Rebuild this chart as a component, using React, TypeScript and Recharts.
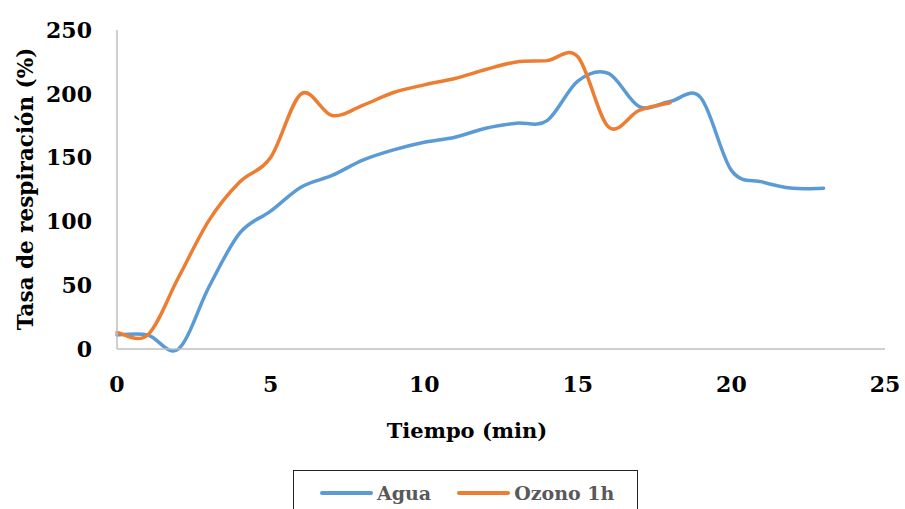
import { LineChart, Line, XAxis, YAxis, Legend } from 'recharts';

const minutes = [0, 1, 2, 3, 4, 5, 6, 7, 8, 9, 10, 11, 12, 13, 14, 15, 16, 17, 18, 19, 20, 21, 22, 23];
const agua = [11, 11, 0, 49, 91, 108, 127, 136, 148, 156, 162, 166, 173, 177, 179, 210, 216, 190, 194, 197, 140, 131, 126, 126];
const ozono1h = [13, 11, 56, 101, 131, 150, 200, 183, 191, 201, 207, 212, 219, 225, 226, 229, 174, 187, 193];
const xTicks = [0, 5, 10, 15, 20, 25];
const yTicks = [0, 50, 100, 150, 200, 250];

const rows = minutes.map((t, i) => ({ t, agua: agua[i], ozono: ozono1h[i] }));

const FONT = '"DejaVu Serif", serif';
const BLUE = '#5B9BD5';
const ORANGE = '#ED7D31';
const AXIS = '#BFBFBF';

// Office-style smoothed line: cubic bezier through each point, tangents from neighbours / 6
function smoothCurve(context: any) {
  let pts: [number, number][] = [];
  return {
    areaStart() {},
    areaEnd() {},
    lineStart() {
      pts = [];
    },
    point(x: number, y: number) {
      pts.push([+x, +y]);
    },
    lineEnd() {
      if (!pts.length) return;
      context.moveTo(pts[0][0], pts[0][1]);
      for (let i = 0; i < pts.length - 1; i++) {
        const p0 = pts[i - 1] || pts[i];
        const p1 = pts[i];
        const p2 = pts[i + 1];
        const p3 = pts[i + 2] || p2;
        context.bezierCurveTo(
          p1[0] + (p2[0] - p0[0]) / 6,
          p1[1] + (p2[1] - p0[1]) / 6,
          p2[0] - (p3[0] - p1[0]) / 6,
          p2[1] - (p3[1] - p1[1]) / 6,
          p2[0],
          p2[1],
        );
      }
    },
  };
}

// legend frame runs off the bottom edge of the chart
function LegendBox({ payload }: any) {
  return (
    <div
      style={{
        width: 345,
        height: 46,
        border: '1.5px solid #222',
        boxSizing: 'border-box',
        display: 'flex',
        alignItems: 'center',
        fontFamily: FONT,
        fontWeight: 'bold',
        fontSize: 19,
        color: '#595959',
        paddingLeft: 26,
      }}
    >
      {(payload || []).map((p: any, i: number) => (
        <span key={p.value} style={{ display: 'flex', alignItems: 'center', marginLeft: i ? 26 : 0 }}>
          <span style={{ display: 'inline-block', width: 53, height: 3.5, background: p.color, borderRadius: 2, marginRight: 4 }} />
          {p.value}
        </span>
      ))}
    </div>
  );
}

export default function App() {
  return (
    <div style={{ position: 'absolute', left: 0, top: 0, width: 905, height: 509, background: '#fff', overflow: 'hidden' }}>
      <LineChart width={905} height={509} data={rows} margin={{ top: 30, right: 20, left: 0, bottom: 0 }}>
        <XAxis
          dataKey="t"
          type="number"
          domain={[0, 25]}
          ticks={xTicks}
          stroke={AXIS}
          strokeWidth={1.5}
          tickLine={false}
          tickMargin={21}
          height={116}
          tick={{ fill: '#000', fontFamily: FONT, fontWeight: 'bold', fontSize: 22 }}
          label={{
            content: () => (
              <text x={467} y={438} textAnchor="middle" fontFamily={FONT} fontWeight="bold" fontSize={21} fill="#000">
                Tiempo (min)
              </text>
            ),
          }}
        />
        <YAxis
          type="number"
          domain={[0, 250]}
          ticks={yTicks}
          width={117}
          stroke={AXIS}
          strokeWidth={1.5}
          tickLine={false}
          tickMargin={19}
          tick={{ fill: '#000', fontFamily: FONT, fontWeight: 'bold', fontSize: 22 }}
          label={{
            content: () => (
              <text
                x={25}
                y={189}
                transform="rotate(-90 25 189)"
                textAnchor="middle"
                dominantBaseline="central"
                fontFamily={FONT}
                fontWeight="bold"
                fontSize={21.5}
                fill="#000"
              >
                Tasa de respiración (%)
              </text>
            ),
          }}
        />
        <Legend
          verticalAlign="bottom"
          content={<LegendBox />}
          wrapperStyle={{ left: 293, top: 470, bottom: 'auto', width: 345, height: 44 }}
        />
        <Line
          dataKey="agua"
          name="Agua"
          type={smoothCurve as any}
          stroke={BLUE}
          strokeWidth={3.5}
          strokeLinecap="round"
          dot={false}
          activeDot={false}
          isAnimationActive={false}
        />
        <Line
          dataKey="ozono"
          name="Ozono 1h"
          type={smoothCurve as any}
          stroke={ORANGE}
          strokeWidth={3.5}
          strokeLinecap="round"
          dot={false}
          activeDot={false}
          isAnimationActive={false}
        />
      </LineChart>
    </div>
  );
}
